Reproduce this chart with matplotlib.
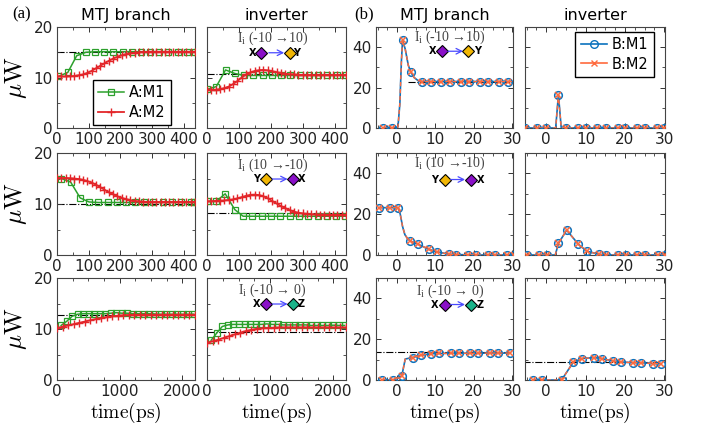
import matplotlib
matplotlib.use('Agg')
import matplotlib.pyplot as plt
from matplotlib.lines import Line2D
from matplotlib.ticker import MultipleLocator

plt.rcParams['font.family'] = ['DejaVu Sans']
plt.rcParams['mathtext.fontset'] = 'cm'

# ---------------- (a) data ----------------
t_fine = [0, 13.6, 27.2, 40.8, 54.4, 68, 81.6, 95.2, 108.8, 122.4, 136, 149.6, 163.2,
          176.8, 190.4, 204, 217.6, 231.2, 244.8, 258.4, 272, 285.6, 299.2, 312.8,
          326.4, 340, 353.6, 367.2, 380.8, 394.4, 408, 421.6, 435]
t_long = [0, 88, 176, 264, 352, 440, 528, 616, 704, 792, 880, 968, 1056, 1144, 1232,
          1320, 1408, 1496, 1584, 1672, 1760, 1848, 1936, 2024, 2112, 2200]
t_long_m1 = [66, 154, 242, 330, 418, 506, 594, 682, 770, 858, 946, 1034, 1122, 1210,
             1298, 1386, 1474, 1562, 1650, 1738, 1826, 1914, 2002, 2090, 2178]

# row 1 : Ii (-10 -> 10)
a1_mtj_m1_t = [4, 34, 62, 91, 120, 149, 177, 207, 236, 264, 294, 323, 351, 381, 410, 435]
a1_mtj_m1 = [10.2, 11.0, 14.3, 15.0, 15.1, 15.1, 15.1, 15.1, 15.1, 15.1, 15.1, 15.1,
             15.1, 15.1, 15.1, 15.1]
a1_mtj_m2 = [10.2, 10.2, 10.2, 10.25, 10.3, 10.45, 10.6, 10.9, 11.3, 11.8, 12.3, 12.8,
             13.3, 13.75, 14.1, 14.4, 14.65, 14.8, 14.9, 15.0, 15.05, 15.1, 15.1, 15.1,
             15.1, 15.1, 15.1, 15.1, 15.1, 15.1, 15.1, 15.1, 15.1]
a1_inv_m1_t = [0, 29, 58, 87, 116, 145, 174, 203, 232, 261, 290, 319, 348, 377, 406, 435]
a1_inv_m1 = [7.65, 8.2, 11.5, 10.8, 10.4, 10.4, 10.4, 10.4, 10.4, 10.4, 10.4, 10.4,
             10.4, 10.4, 10.4, 10.4]
a1_inv_m2 = [7.6, 7.6, 7.6, 7.7, 7.9, 8.2, 8.7, 9.3, 10.0, 10.6, 11.0, 11.3, 11.45,
             11.5, 11.4, 11.25, 11.05, 10.9, 10.75, 10.65, 10.6, 10.55, 10.5, 10.5,
             10.5, 10.5, 10.5, 10.5, 10.5, 10.5, 10.5, 10.5, 10.5]

# row 2 : Ii (10 -> -10)
a2_mtj_m1_t = [14, 43, 73, 101, 130, 160, 188, 217, 247, 275, 304, 334, 362, 392, 421, 435]
a2_mtj_m1 = [15.0, 14.3, 11.2, 10.4, 10.3, 10.3, 10.3, 10.3, 10.3, 10.3, 10.3, 10.3,
             10.3, 10.3, 10.3, 10.3]
a2_mtj_m2 = [15.1, 15.1, 15.1, 15.05, 15.0, 14.9, 14.75, 14.5, 14.2, 13.8, 13.3, 12.8,
             12.3, 11.9, 11.5, 11.2, 10.95, 10.75, 10.6, 10.5, 10.45, 10.4, 10.4, 10.4,
             10.4, 10.4, 10.4, 10.4, 10.4, 10.4, 10.4, 10.4, 10.4]
a2_inv_m1_t = [0, 28, 57, 87, 113, 142, 172, 200, 229, 259, 287, 316, 346, 374, 403, 433]
a2_inv_m1 = [10.5, 10.5, 12.0, 8.9, 7.6, 7.6, 7.6, 7.6, 7.6, 7.6, 7.6, 7.6, 7.6, 7.6,
             7.6, 7.6]
a2_inv_m2 = [10.5, 10.55, 10.6, 10.65, 10.7, 10.8, 10.9, 11.1, 11.35, 11.6, 11.8, 11.85,
             11.75, 11.5, 11.1, 10.6, 10.1, 9.6, 9.2, 8.8, 8.5, 8.3, 8.15, 8.05, 8.0,
             7.95, 7.9, 7.9, 7.9, 7.9, 7.9, 7.9, 7.9]

# row 3 : Ii (-10 -> 0)
a3_mtj_m1 = [10.7, 11.5, 12.5, 12.9, 13.0, 13.0, 13.0, 13.0, 13.0, 13.1, 13.2, 13.1,
             13.1, 13.0, 13.0, 13.0, 13.0, 12.95, 12.9, 12.9, 12.9, 12.9, 12.9, 12.9, 12.9]
a3_mtj_m2 = [10.2, 10.45, 10.7, 10.95, 11.2, 11.45, 11.7, 11.95, 12.15, 12.35, 12.5,
             12.6, 12.7, 12.75, 12.8, 12.8, 12.8, 12.8, 12.8, 12.8, 12.8, 12.8, 12.8,
             12.8, 12.8, 12.8]
a3_inv_m1 = [7.8, 9.2, 10.5, 10.8, 10.9, 10.9, 10.9, 10.9, 10.9, 10.9, 11.0, 10.9, 10.9,
             10.8, 10.8, 10.8, 10.8, 10.8, 10.7, 10.7, 10.7, 10.7, 10.75, 10.7, 10.7]
a3_inv_m2 = [7.3, 7.6, 7.9, 8.25, 8.6, 8.95, 9.3, 9.6, 9.85, 10.05, 10.15, 10.2, 10.25,
             10.3, 10.3, 10.3, 10.3, 10.3, 10.3, 10.3, 10.3, 10.3, 10.3, 10.3, 10.3, 10.3]

a_ref = [[15.1, 10.6], [10.0, 8.2], [12.7, 9.5]]

# ---------------- (b) data (M1 and M2 coincide) ----------------
b1_mtj_t = [-3.5, -1.2, 0.3, 0.8, 1.2, 1.5, 2.2, 3.0, 3.7, 4.5, 5.5, 6.6, 8.8, 11.6,
            13.8, 16.6, 18.8, 21.6, 23.8, 26.6, 28.8, 30.0]
b1_mtj = [0, 0, 0.5, 12, 33, 43.5, 39, 31, 27.5, 25, 23.5, 23.0, 23.0, 23.0, 23.0, 23.0,
          23.0, 23.0, 23.0, 23.0, 23.0, 23.0]
b1_mtj_mk = [0, 1, 5, 8, 11, 12, 13, 14, 15, 16, 17, 18, 19, 20]
b1_inv_t = [-5.3, -2.3, -0.1, 2.4, 3.1, 3.8, 5.0, 8.0, 10.0, 13.0, 15.2, 18.2, 20.1,
            23.1, 25.2, 28.2, 30.0]
b1_inv = [0, 0, 0, 0, 16.5, 0.3, 0, 0, 0, 0, 0, 0, 0, 0, 0, 0, 0]
b1_inv_mk = [0, 1, 2, 4, 6, 7, 8, 9, 10, 11, 12, 13, 14, 15, 16]

b2_mtj_t = [-4.7, -1.7, 0.4, 0.9, 1.5, 2.1, 2.7, 3.4, 5.4, 8.4, 10.4, 13.5, 15.4, 18.4,
            20.6, 23.6, 25.6, 28.6, 30.5]
b2_mtj = [23.2, 23.2, 23.2, 20, 14, 10, 8.3, 7.0, 5.4, 2.7, 1.6, 0.4, 0.2, 0.1, 0, 0, 0,
          0, 0]
b2_mtj_mk = [0, 1, 2, 7, 8, 9, 10, 11, 12, 13, 14, 15, 16, 17, 18]
b2_inv_t = [-4.9, -1.9, 0.3, 2.3, 3.1, 5.2, 8.2, 10.3, 13.3, 15.3, 18.3, 20.2, 23.2,
            25.2, 28.3, 30.3]
b2_inv = [0, 0, 0, 0, 5.7, 12.2, 5.2, 1.9, 0.4, 0, 0, 0, 0, 0, 0, 0]
b2_inv_mk = [0, 1, 2, 4, 5, 6, 7, 8, 9, 10, 11, 12, 13, 14, 15]

b3_mtj_t = [-3.9, -0.9, 1.3, 2.2, 4.1, 6.2, 9.0, 11.1, 14.1, 16.1, 19.1, 21.2, 24.2,
            26.3, 29.3]
b3_mtj = [0, 0, 2.0, 10.3, 11.0, 12.1, 12.9, 13.0, 13.1, 13.1, 13.1, 13.1, 13.2, 13.2,
          13.2]
b3_mtj_mk = [0, 1, 2, 4, 5, 6, 7, 8, 9, 10, 11, 12, 13, 14]
b3_inv_t = [-3.4, -1.2, 3.9, 6.9, 9.1, 12.1, 14.1, 17.1, 19.1, 22.1, 24.2, 27.2, 29.2]
b3_inv = [0, 0, 0, 8.8, 10.5, 11.0, 10.5, 9.3, 8.8, 8.5, 8.5, 8.0, 8.0]
b3_inv_mk = [0, 1, 2, 3, 4, 5, 6, 7, 8, 9, 10, 11, 12]

# reference lines in (b): (value, x start) or None
b_ref = [[(22.6, 3.0), None], [None, None], [(13.5, -6), (8.8, -6)]]

row_labels = ['(-10 \u219210)', '(10 \u2192-10)', '(-10 \u2192 0)']
row_states = [('X', '#8a10c8', 'Y', '#f2b705'), ('Y', '#f2b705', 'X', '#8a10c8'),
              ('X', '#8a10c8', 'Z', '#19b38a')]

GREEN = '#2ca02c'
RED = '#e3262a'
BLUE = '#0b72bd'
ORANGE = '#ff6a3d'

W, H = 701, 430
cols = [(57, 195), (207, 346), (376, 513), (525, 665)]
rows = [(27, 128), (153, 255), (278, 380)]

fig = plt.figure(figsize=(W / 100, H / 100), dpi=100)


def make_ax(c, r):
    l, rr = cols[c]
    t, b = rows[r]
    ax = fig.add_axes([l / W, 1 - b / H, (rr - l) / W, (b - t) / H])
    ax.tick_params(which='both', direction='in', top=True, right=True,
                   labelsize=11, colors='#333', labelcolor='#222', pad=3)
    ax.tick_params(which='major', length=3.5, width=0.7)
    ax.tick_params(which='minor', length=2.5, width=0.6)
    for s in ax.spines.values():
        s.set_color('#444')
        s.set_linewidth(0.8)
    return ax


def switch_note(ax, r, xc, yt, yd, xs):
    ax.text(xc, yt, r'$\mathregular{I_i}$ ' + row_labels[r], transform=ax.transAxes,
            ha='center', va='center', fontsize=10, color='#444',
            family=['Liberation Serif', 'DejaVu Serif'])
    l1, c1, l2, c2 = row_states[r]
    ax.text(xs[0], yd, l1, transform=ax.transAxes, ha='center', va='center',
            fontsize=7, fontweight='bold')
    ax.plot([xs[1]], [yd], marker='D', ms=6, mfc=c1, mec='k', mew=0.8,
            transform=ax.transAxes, clip_on=False)
    ax.annotate('', xy=(xs[3], yd), xytext=(xs[2], yd), xycoords='axes fraction',
                arrowprops=dict(arrowstyle='->', color='#4a4aff', lw=0.9,
                                shrinkA=0, shrinkB=0))
    ax.plot([xs[4]], [yd], marker='D', ms=6, mfc=c2, mec='k', mew=0.8,
            transform=ax.transAxes, clip_on=False)
    ax.text(xs[5], yd, l2, transform=ax.transAxes, ha='center', va='center',
            fontsize=7, fontweight='bold')


leg_kw = dict(fontsize=10.5, fancybox=False, edgecolor='k', framealpha=1,
              handlelength=1.8, borderpad=0.35, labelspacing=0.3, handletextpad=0.35,
              borderaxespad=0)

a_sets = [
    [(a1_mtj_m1_t, a1_mtj_m1, t_fine, a1_mtj_m2), (a1_inv_m1_t, a1_inv_m1, t_fine, a1_inv_m2)],
    [(a2_mtj_m1_t, a2_mtj_m1, t_fine, a2_mtj_m2), (a2_inv_m1_t, a2_inv_m1, t_fine, a2_inv_m2)],
    [(t_long_m1, a3_mtj_m1, t_long, a3_mtj_m2), (t_long_m1, a3_inv_m1, t_long, a3_inv_m2)],
]
b_sets = [
    [(b1_mtj_t, b1_mtj, b1_mtj_mk), (b1_inv_t, b1_inv, b1_inv_mk)],
    [(b2_mtj_t, b2_mtj, b2_mtj_mk), (b2_inv_t, b2_inv, b2_inv_mk)],
    [(b3_mtj_t, b3_mtj, b3_mtj_mk), (b3_inv_t, b3_inv, b3_inv_mk)],
]

for r in range(3):
    # ---- panel (a) ----
    for c in range(2):
        ax = make_ax(c, r)
        x1, y1, x2, y2 = a_sets[r][c]
        ax.axhline(a_ref[r][c], color='k', ls='-.', lw=0.8, zorder=1)
        ax.plot(x1, y1, color=GREEN, marker='s', ms=4.5, mfc='none', mew=0.9, lw=1.1,
                label='A:M1', zorder=3)
        ax.plot(x2, y2, color=RED, marker='+', ms=6, mew=1.0, lw=1.3, label='A:M2',
                zorder=4)
        ax.set_ylim(0, 20)
        ax.yaxis.set_major_locator(MultipleLocator(10))
        ax.yaxis.set_minor_locator(MultipleLocator(5))
        if r < 2:
            ax.set_xlim(0, 435)
            ax.xaxis.set_major_locator(MultipleLocator(100))
            ax.xaxis.set_minor_locator(MultipleLocator(50))
        else:
            ax.set_xlim(0, 2200)
            ax.xaxis.set_major_locator(MultipleLocator(1000))
            ax.xaxis.set_minor_locator(MultipleLocator(250))
            ax.set_xlabel(r'$\mathrm{time(ps)}$', fontsize=14, labelpad=1)
        if c == 0:
            ax.set_ylabel(r'$\mu\mathrm{W}$', fontsize=18)
            ax.yaxis.set_label_coords(-0.2, 0.5)
        else:
            ax.set_yticklabels([])
        if r == 0:
            ax.set_title('MTJ branch' if c == 0 else 'inverter', fontsize=11.5, pad=5)
        if r == 0 and c == 0:
            ax.legend(loc='lower left', bbox_to_anchor=(0.26, 0.03), **leg_kw)
        if c == 1:
            switch_note(ax, r, 0.47, 0.89 if r == 0 else 0.88, 0.745,
                        [0.33, 0.39, 0.445, 0.555, 0.595, 0.645] if r == 0 else
                        [0.36, 0.425, 0.47, 0.58, 0.62, 0.68])

    # ---- panel (b) ----
    for c in range(2):
        ax = make_ax(c + 2, r)
        x, y, mk = b_sets[r][c]
        ref = b_ref[r][c]
        if ref is not None:
            ax.plot([ref[1], 31], [ref[0], ref[0]], color='k', ls='-.', lw=0.8, zorder=1)
        ax.plot(x, y, color=BLUE, marker='o', ms=5.5, mfc='none', mew=1.1, lw=1.2,
                markevery=mk, zorder=3)
        ax.plot(x, y, color=ORANGE, marker='x', ms=4.5, mew=1.1, lw=1.0, ls=(0, (3, 2)),
                markevery=mk, zorder=4)
        ax.set_xlim(-5.4, 30.2)
        ax.set_ylim(0, 50)
        ax.xaxis.set_major_locator(MultipleLocator(10))
        ax.xaxis.set_minor_locator(MultipleLocator(2.5))
        ax.yaxis.set_major_locator(MultipleLocator(20))
        ax.yaxis.set_minor_locator(MultipleLocator(10))
        if c == 1:
            ax.set_yticklabels([])
        if r == 2:
            ax.set_xlabel(r'$\mathrm{time(ps)}$', fontsize=14, labelpad=1)
        if r == 0:
            ax.set_title('MTJ branch' if c == 0 else 'inverter', fontsize=11.5, pad=5)
        if r == 0 and c == 1:
            handles = [Line2D([], [], color=BLUE, marker='o', mfc='none', ms=5.5, lw=1.2),
                       Line2D([], [], color=ORANGE, marker='x', ms=5, lw=1.2)]
            ax.legend(handles, ['B:M1', 'B:M2'], loc='upper right',
                      bbox_to_anchor=(0.92, 0.95), **leg_kw)
        if c == 0:
            switch_note(ax, r, 0.54, 0.9 if r < 2 else 0.87, 0.76 if r == 0 else 0.74,
                        [0.41, 0.48, 0.525, 0.635, 0.675, 0.745] if r == 0 else
                        [0.425, 0.5, 0.545, 0.65, 0.695, 0.76])

fig.text(22 / W, 1 - 14 / H, '(a)', ha='center', va='center', fontsize=12,
         family=['Liberation Serif'])
fig.text(364 / W, 1 - 14 / H, '(b)', ha='center', va='center', fontsize=12,
         family=['Liberation Serif'])

fig.savefig('out.png', dpi=100)
